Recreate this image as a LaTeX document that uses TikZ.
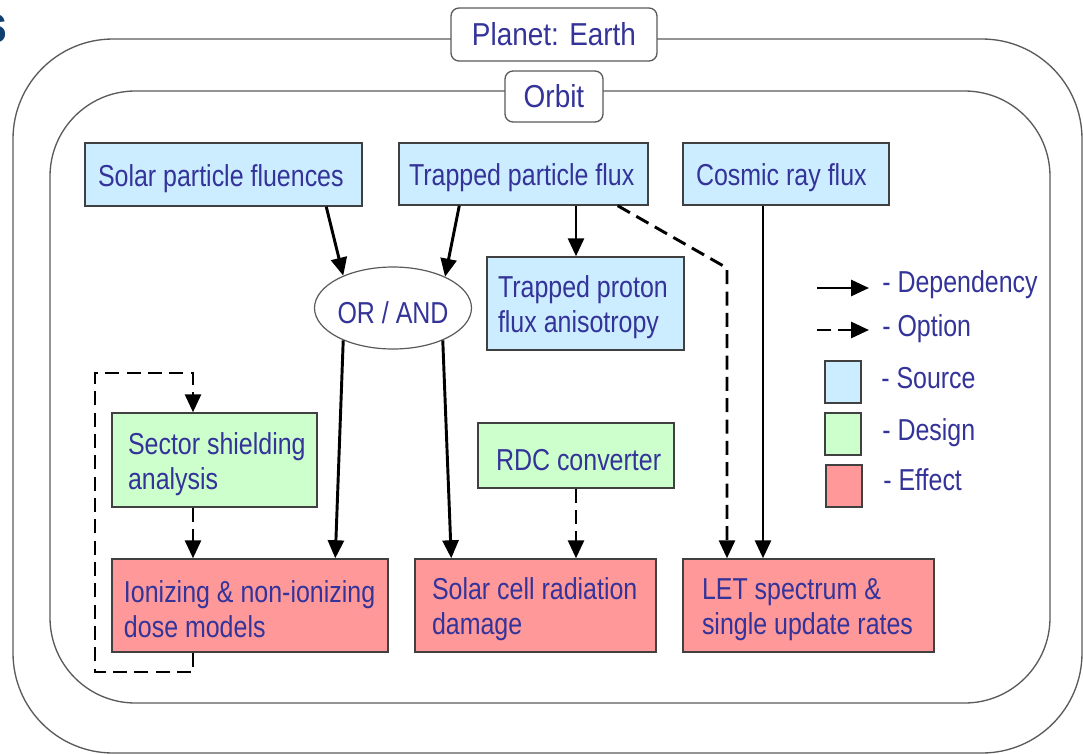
\documentclass[tikz,border=0pt]{standalone}
\usepackage{fontspec}
\setmainfont{Liberation Sans}[FakeStretch=0.825]
\newfontfamily\tagfont{Liberation Sans}[FakeStretch=0.88]
\usetikzlibrary{arrows.meta,shapes.geometric,calc}

\definecolor{ink}{RGB}{51,51,153}
\definecolor{framegray}{RGB}{90,90,90}
\definecolor{edgegray}{RGB}{64,64,64}
\definecolor{srcfill}{RGB}{204,236,255}
\definecolor{desfill}{RGB}{204,255,204}
\definecolor{efffill}{RGB}{255,153,153}
\definecolor{titleblue}{RGB}{16,64,112}

\begin{document}
\begin{tikzpicture}[x=0.75pt,y=-0.75pt,
  every node/.style={text=ink},
  boxtext/.style={font=\fontsize{22.7}{26.25}\selectfont},
  lpad/.style={execute at begin node={\leftskip=#1\relax\rule{0pt}{22.6pt}}},
  box/.style={draw=edgegray, line width=1.1pt, inner xsep=0pt, inner ysep=0pt,
    align=flush left, boxtext},
  boxsize/.style n args={3}{minimum width=#1, text width=#1, minimum height=#2, lpad=#3},
  source/.style={box, fill=srcfill},
  design/.style={box, fill=desfill},
  effect/.style={box, fill=efffill},
  frameline/.style={draw=framegray, line width=1pt},
  tag/.style={draw=framegray, fill=white, line width=1pt, rounded corners=6pt,
    inner sep=0pt, font=\tagfont\fontsize{23.8}{28}\selectfont},
  legtext/.style={inner sep=0pt, anchor=base west, boxtext},
  swatch/.style={draw=edgegray, line width=1.1pt, minimum width=27pt,
    minimum height=31.5pt, inner sep=0pt},
  dep/.style={draw=black, line width=2.2pt, line join=miter,
    -{Triangle[length=13.5pt,width=12pt]}},
  opt/.style={dep, dash pattern=on 10.5pt off 5.5pt},
]
\useasboundingbox (0,0) rectangle (1083,754);

% heading fragment at the top-left corner
\node[font=\bfseries\fontsize{39}{39}\selectfont, text=titleblue, anchor=base east,
  inner sep=0pt] (hdr) at (8,42) {s};

% nested environment frames
\draw[frameline, rounded corners=75pt] (13,39) rectangle (1082,753);
\draw[frameline, rounded corners=64pt] (50,91) rectangle (1050,703);
\node[tag, minimum width=154.5pt, minimum height=39.75pt] (planet) at (554,34.5) {Planet: Earth};
\node[tag, minimum width=73.5pt, minimum height=38.25pt] (orbit) at (554,96.5) {Orbit};

% sources
\node[source, boxsize={207.75pt}{47.25pt}{9.75pt}] (solar) at (223.5,174.5) {Solar particle fluences};
\node[source, boxsize={186.75pt}{46.5pt}{7.5pt}] (trapped) at (523.5,174) {Trapped particle flux};
\node[source, boxsize={154.5pt}{46.5pt}{9.75pt}] (cosmic) at (786,174) {Cosmic ray flux};
\node[source, boxsize={147.75pt}{69.75pt}{8.25pt}] (proton) at (585.5,303.5) {Trapped proton\\flux anisotropy};

% combination node
\node[ellipse, draw=framegray, line width=0.9pt, fill=white, minimum width=114pt,
  minimum height=61.5pt, inner sep=0pt, boxtext,
  execute at begin node={\rule{0pt}{23pt}}] (gate) at (393,308) {OR / AND};

% design inputs
\node[design, boxsize={153.75pt}{70.5pt}{12pt}] (sector) at (214.5,460) {Sector shielding\\analysis};
\node[design, boxsize={147pt}{48.75pt}{13.5pt}] (rdc) at (576,455.5) {RDC converter};

% effects
\node[effect, boxsize={207pt}{69.75pt}{9pt}] (ionizing) at (250,605.5) {Ionizing \& non-ionizing\\dose models};
\node[effect, boxsize={180.75pt}{69.75pt}{12.75pt}] (cell) at (535.5,605.5) {Solar cell radiation\\damage};
\node[effect, boxsize={188.25pt}{69.75pt}{14.25pt}] (letrate) at (808.5,605.5) {LET spectrum \&\\single update rates};

% helper coordinates for the connectors
\coordinate (x576) at (576,0);
\coordinate (x763) at (763,0);
\coordinate (x193) at (193,0);
\coordinate (kink) at (727,268);
\coordinate (loopbot) at (95,672);
\coordinate (looptop) at (95,373);

% connectors
\draw[dep] ($(solar.south west)+(242,0)$) -- (gate.147);
\draw[dep] ($(trapped.south west)+(61,0)$) -- (gate.31);
\draw[dep] (trapped.south -| x576) -- (proton.north -| x576);
\draw[opt] ($(trapped.south east)+(-31,0)$) -- (kink) -- (letrate.north -| kink);
\draw[dep] (cosmic.south -| x763) -- (letrate.north -| x763);
\draw[dep] (gate.213) -- ($(ionizing.north west)+(224,0)$);
\draw[dep] (gate.327) -- ($(cell.north west)+(37,0)$);
\draw[opt] (rdc.south -| x576) -- (cell.north -| x576);
\draw[opt] (sector.south -| x193) -- (ionizing.north -| x193);
\draw[opt] (ionizing.south -| x193) |- (loopbot) -- (looptop) -| (sector.north -| x193);

% legend
\node[legtext] (ldep) at (882,292) {- Dependency};
\node[legtext] (lopt) at (882,336.5) {- Option};
\node[legtext] (lsrc) at (881,388) {- Source};
\node[legtext] (ldes) at (882,440.5) {- Design};
\node[legtext] (leff) at (883,490.5) {- Effect};
\coordinate (kdep) at (817,288);
\coordinate (kopt) at (817,330);
\draw[dep, shorten >=9.75pt] (kdep) -- (kdep -| ldep.west);
\draw[opt, shorten >=9.75pt] (kopt) -- (kopt -| lopt.west);
\node[swatch, fill=srcfill] (ksrc) at (843,382) {};
\node[swatch, fill=desfill] (kdes) at (843,434) {};
\node[swatch, fill=efffill] (keff) at (844,486) {};
\end{tikzpicture}
\end{document}
